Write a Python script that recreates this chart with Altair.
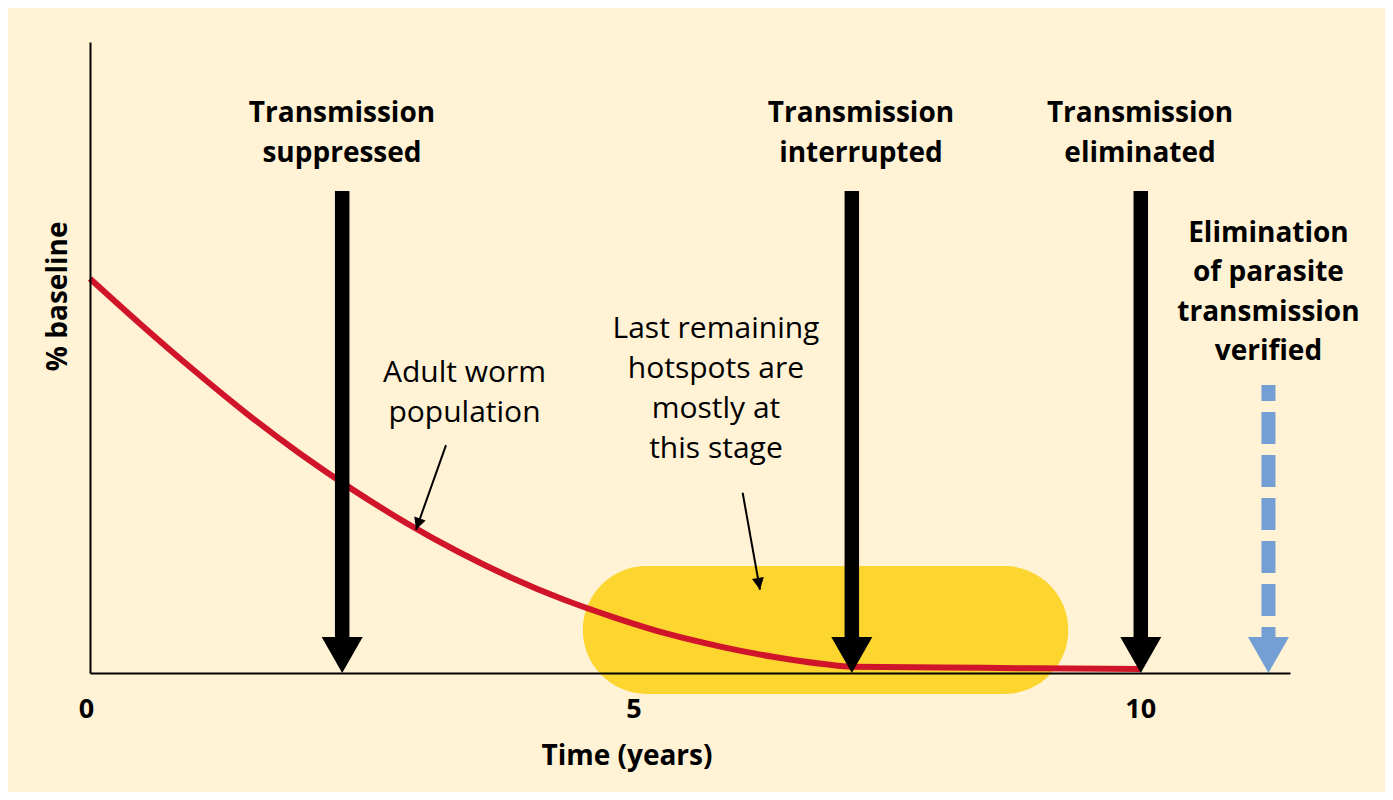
import altair as alt
import pandas as pd

# ---------------- data ----------------
years = [0, 0.5, 1.0, 1.5, 2.0, 2.5, 3.0, 3.5, 4.0, 4.5, 5.0, 5.5, 6.0, 6.5,
         7.0, 7.25, 8.5, 10.0]
worm_pct = [100, 88.0, 76.5, 65.6, 55.6, 46.5, 38.2, 30.8, 24.3, 18.7, 14.0,
            9.9, 6.7, 4.1, 2.2, 1.6, 1.3, 1.0]

stage_year = [2.40, 7.25, 10.0]
stage_label = ["Transmission\nsuppressed", "Transmission\ninterrupted", "Transmission\neliminated"]
stage_label_x = [2.398, 7.337, 9.993]

verified_year = [11.215]
verified_label = ["Elimination\nof parasite\ntransmission\nverified"]

hotspot_start = [4.69]
hotspot_end = [9.31]
hotspot_low = [-5.3]
hotspot_high = [27.1]

note_text = ["Adult worm\npopulation", "Last remaining\nhotspots are\nmostly at\nthis stage"]
note_x = [3.564, 5.957]
note_y = [73.9, 84.9]
pointer_x0 = [3.388, 6.211]
pointer_y0 = [57.8, 45.7]
pointer_x1 = [3.102, 6.376]
pointer_y1 = [36.3, 21.1]
pointer_angle = [19.4, 350]

tick_pos = [-0.033, 5.177, 10.0]
tick_text = ["0", "5", "10"]

X_MAX = 11.42
Y_MAX = 160
ARROW_TOP = 122.2
ARROW_BASE = 8.0
BLUE_TOP = 73.0

# ---------------- style ----------------
CREAM = "#FFF2D5"
RED = "#D0152B"
YELLOW = "#FDD52F"
BLUE = "#749FD4"
FONT = "Open Sans"

xs = alt.Scale(domain=[0, X_MAX], nice=False, zero=False)
ys = alt.Scale(domain=[0, Y_MAX], nice=False, zero=False)
axis = alt.Axis(domain=True, domainColor="black", domainWidth=2, ticks=False,
                labels=False, grid=False, title=None, zindex=1)


def X(f):
    return alt.X(f"{f}:Q", scale=xs, axis=axis)


def Y(f):
    return alt.Y(f"{f}:Q", scale=ys, axis=axis)


curve = pd.DataFrame({"year": years, "pct": worm_pct})
stages = pd.DataFrame({"year": stage_year, "label": stage_label, "lx": stage_label_x,
                       "top": [ARROW_TOP] * 3, "base": [ARROW_BASE] * 3, "zero": [0] * 3,
                       "ly": [139.7] * 3})
verified = pd.DataFrame({"year": verified_year, "label": verified_label,
                         "top": [BLUE_TOP], "base": [ARROW_BASE], "zero": [0], "ly": [109.4]})
hot = pd.DataFrame({"x0": hotspot_start, "x1": hotspot_end, "y0": hotspot_low, "y1": hotspot_high})
notes = pd.DataFrame({"text": note_text, "x": note_x, "y": note_y,
                      "px0": pointer_x0, "py0": pointer_y0, "px1": pointer_x1, "py1": pointer_y1,
                      "ang": pointer_angle})
ticks = pd.DataFrame({"x": tick_pos, "t": tick_text, "y": [-11.4] * 3})
titles = pd.DataFrame({"t": ["Time (years)"], "x": [5.11], "y": [-23.3]})
ytitle = pd.DataFrame({"t": ["% baseline"], "x": [-0.219], "y": [95.5]})

BIG_HEAD = "M -1 -1.756 L 1 -1.756 L 0 0 Z"
SMALL_HEAD = "M -1 -2 L 1 -2 L 0 0 Z"

pill = alt.Chart(hot).mark_rect(color=YELLOW, cornerRadius=64, clip=False).encode(
    x=X("x0"), x2="x1", y=Y("y0"), y2="y1")

line = alt.Chart(curve).mark_line(color=RED, strokeWidth=6, interpolate="monotone").encode(
    x=X("year"), y=Y("pct"))

shafts = alt.Chart(stages).mark_rule(color="black", strokeWidth=14.5, strokeCap="butt").encode(
    x=X("year"), y=Y("top"), y2="base")
heads = alt.Chart(stages).mark_point(shape=BIG_HEAD, size=1681, filled=True, fill="black",
                                     stroke=None, opacity=1).encode(x=X("year"), y=Y("zero"))

blue_shaft = alt.Chart(verified).mark_rule(color=BLUE, strokeWidth=14, strokeCap="butt",
                                           strokeDash=[32, 11], strokeDashOffset=16).encode(
    x=X("year"), y=Y("top"), y2="base")
blue_head = alt.Chart(verified).mark_point(shape=BIG_HEAD, size=1681, filled=True, fill=BLUE,
                                           stroke=None, opacity=1).encode(x=X("year"), y=Y("zero"))

stage_text = alt.Chart(stages).mark_text(font=FONT, fontSize=28, fontWeight="bold", color="black",
                                         lineBreak="\n", lineHeight=40, align="center",
                                         baseline="alphabetic").encode(
    x=X("lx"), y=Y("ly"), text="label:N")
verified_text = alt.Chart(verified).mark_text(font=FONT, fontSize=28, fontWeight="bold", color="black",
                                              lineBreak="\n", lineHeight=39.5, align="center",
                                              baseline="alphabetic").encode(
    x=X("year"), y=Y("ly"), text="label:N")

note_txt = alt.Chart(notes).mark_text(font=FONT, fontSize=30, color="black", lineBreak="\n",
                                      lineHeight=40, align="center", baseline="alphabetic").encode(
    x=X("x"), y=Y("y"), text="text:N")
pointers = alt.Chart(notes).mark_rule(color="black", strokeWidth=2).encode(
    x=X("px0"), y=Y("py0"), x2="px1", y2="py1")
pointer_heads = alt.Chart(notes).mark_point(shape=SMALL_HEAD, size=144, filled=True, fill="black",
                                            stroke=None, opacity=1).encode(
    x=X("px1"), y=Y("py1"), angle=alt.Angle("ang:Q", scale=None))

tick_txt = alt.Chart(ticks).mark_text(font=FONT, fontSize=27, fontWeight="bold", color="black",
                                      align="center", baseline="alphabetic").encode(
    x=X("x"), y=Y("y"), text="t:N")
x_title = alt.Chart(titles).mark_text(font=FONT, fontSize=28, fontWeight="bold", color="black",
                                      align="center", baseline="alphabetic").encode(
    x=X("x"), y=Y("y"), text="t:N")
y_title = alt.Chart(ytitle).mark_text(font=FONT, fontSize=28, fontWeight="bold", color="black",
                                      align="center", baseline="alphabetic", angle=270).encode(
    x=X("x"), y=Y("y"), text="t:N")

chart = alt.layer(
    pill, line, shafts, heads, blue_shaft, blue_head, stage_text, verified_text,
    note_txt, pointers, pointer_heads, tick_txt, x_title, y_title
).properties(
    width=1200, height=631,
    autosize=alt.AutoSizeParams(type="none"),
    padding={"left": 82, "top": 34, "right": 95, "bottom": 119},
    background=CREAM,
).configure_view(stroke=None)

chart.save("out.html", embed_options={"renderer": "svg", "actions": False})
